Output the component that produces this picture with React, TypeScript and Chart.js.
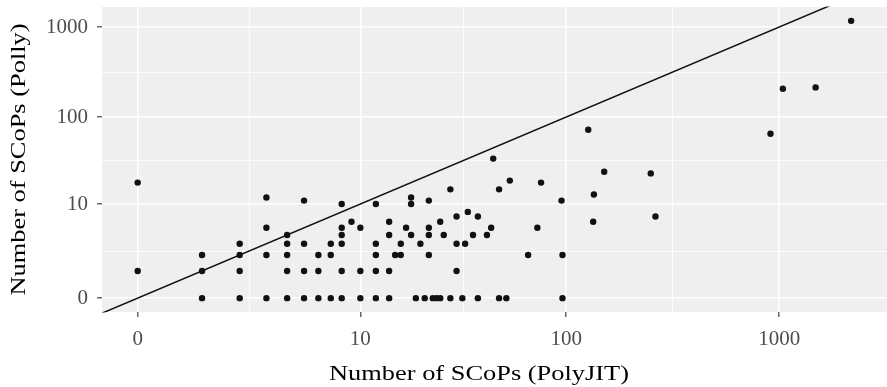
import React, { useEffect, useRef } from 'react';
import { Chart, registerables } from 'chart.js';

Chart.register(...registerables);

// Number of SCoPs found by PolyJIT (x) and by Polly (y), one entry per project
const polyjit = [
  0, 0,
  1, 1, 1,
  2, 2, 2, 2,
  3, 3, 3, 3,
  4, 4, 4, 4, 4,
  5, 5, 5, 5,
  6, 6, 6,
  7, 7, 7,
  8, 8, 8, 8, 8, 8,
  9,
  10, 10, 10,
  12, 12, 12, 12, 12,
  14, 14, 14, 14,
  15,
  16, 16,
  17,
  18, 18, 18,
  19,
  20,
  21,
  22, 22, 22, 22,
  23, 24, 25,
  25,
  26,
  28, 28,
  30, 30, 30,
  32,
  33,
  34,
  36,
  38, 38,
  42,
  44,
  45,
  48, 48,
  52,
  54,
  66,
  73,
  76,
  95,
  96, 96,
  127,
  134, 135,
  151,
  250,
  263,
  910,
  1040,
  1480,
  2170,
];

const polly = [
  18, 1,
  0, 1, 2,
  0, 1, 2, 3,
  0, 2, 5, 12,
  0, 1, 2, 3, 4,
  0, 1, 3, 11,
  0, 1, 2,
  0, 2, 3,
  0, 1, 3, 4, 5, 10,
  6,
  0, 1, 5,
  0, 1, 2, 3, 10,
  0, 1, 4, 6,
  2,
  2, 3,
  5,
  4, 10, 12,
  0,
  3,
  0,
  2, 4, 5, 11,
  0, 0, 0,
  6,
  4,
  0, 15,
  1, 3, 7,
  0,
  3,
  8,
  4,
  0, 7,
  4,
  5,
  34,
  0, 15,
  0,
  19,
  2,
  5,
  18,
  11,
  0, 2,
  72,
  6, 13,
  24,
  23,
  7,
  65,
  207,
  214,
  1170,
];

const tickValues = [0, 10, 100, 1000];
const tickLabels = ['0', '10', '100', '1000'];
const xTitle = 'Number of SCoPs (PolyJIT)';
const yTitle = 'Number of SCoPs (Polly)';

const tf = (v: number) => Math.log10(v + 1);

export default function App() {
  const ref = useRef<HTMLCanvasElement>(null);

  useEffect(() => {
    document.body.style.margin = '0';
    const xs = polyjit.map(tf);
    const ys = polly.map(tf);
    const expand = (arr: number[]) => {
      const lo = Math.min(...arr);
      const hi = Math.max(...arr);
      const r = hi - lo;
      return [lo - 0.05 * r, hi + 0.05 * r];
    };
    const [xmin, xmax] = expand(xs);
    const [ymin, ymax] = expand(ys);
    const major = tickValues.map(tf);
    const minor = major.slice(1).map((m, i) => (m + major[i]) / 2);
    const tickList = [...major, ...minor].sort((a, b) => a - b);
    const isMajor = (v: number) => major.some((m) => Math.abs(m - v) < 1e-9);
    const label = (v: number) => {
      const i = major.findIndex((m) => Math.abs(m - v) < 1e-9);
      return i >= 0 ? tickLabels[i] : '';
    };
    const points = xs.map((x, i) => ({ x, y: ys[i] }));
    const lo = Math.min(xmin, ymin);
    const hi = Math.max(xmax, ymax);

    const axis = (min: number, max: number, fit: (s: any) => void, pad: number) => ({
      type: 'linear' as const,
      min,
      max,
      afterBuildTicks: (s: any) => {
        s.ticks = tickList.filter((v) => v >= min && v <= max).map((v) => ({ value: v }));
      },
      afterFit: (s: any) => {
        fit(s);
        s.paddingTop = 0;
        s.paddingBottom = 0;
        s.paddingLeft = 0;
        s.paddingRight = 0;
      },
      border: { display: false },
      grid: {
        color: '#ffffff',
        lineWidth: (c: any) => (c.tick && isMajor(c.tick.value) ? 1.6 : 0.8),
        drawTicks: true,
        tickLength: 5,
        tickWidth: 1.1,
        tickColor: (c: any) => (c.tick && isMajor(c.tick.value) ? '#333333' : 'rgba(0,0,0,0)'),
      },
      ticks: {
        autoSkip: false,
        maxRotation: 0,
        minRotation: 0,
        padding: pad,
        color: '#4D4D4D',
        font: { family: 'Liberation Serif', size: 21 },
        callback: (v: any) => label(Number(v)),
      },
      title: { display: false },
    });

    const bgPlugin = {
      id: 'panelBg',
      beforeDraw(chart: any) {
        const { ctx, chartArea: ca, width, height } = chart;
        ctx.save();
        ctx.fillStyle = '#ffffff';
        ctx.fillRect(0, 0, width, height);
        ctx.fillStyle = '#EFEFEF';
        ctx.fillRect(ca.left, ca.top, ca.right - ca.left, ca.bottom - ca.top);
        ctx.restore();
      },
    };

    const titlePlugin = {
      id: 'axisTitles',
      afterDraw(chart: any) {
        const { ctx, chartArea: ca } = chart;
        ctx.save();
        ctx.fillStyle = '#000000';
        ctx.font = '22px "Liberation Serif"';
        ctx.textAlign = 'center';
        ctx.textBaseline = 'alphabetic';
        ctx.translate(ca.left + 377, 380);
        ctx.scale(1.2, 1);
        ctx.fillText(xTitle, 0, 0);
        ctx.restore();

        ctx.save();
        ctx.fillStyle = '#000000';
        ctx.font = '22px "Liberation Serif"';
        ctx.textAlign = 'center';
        ctx.textBaseline = 'alphabetic';
        ctx.translate(25, (ca.top + ca.bottom) / 2);
        ctx.rotate(-Math.PI / 2);
        ctx.scale(1.2, 1);
        ctx.fillText(yTitle, 0, 0);
        ctx.restore();
      },
    };

    const chart = new Chart(ref.current as HTMLCanvasElement, {
      type: 'scatter',
      data: {
        datasets: [
          {
            data: points,
            pointRadius: 3.2,
            pointHoverRadius: 3.2,
            backgroundColor: '#111111',
            borderWidth: 0,
            clip: false as any,
          },
          {
            data: [
              { x: lo, y: lo },
              { x: hi, y: hi },
            ],
            showLine: true,
            pointRadius: 0,
            borderColor: '#111111',
            borderWidth: 1.5,
            clip: 0.5 as any,
          },
        ],
      },
      options: {
        animation: false,
        responsive: true,
        maintainAspectRatio: false,
        layout: { padding: { top: 7, left: 0, right: 0, bottom: 0 } },
        plugins: { legend: { display: false }, tooltip: { enabled: false } },
        scales: {
          x: axis(xmin, xmax, (s: any) => { s.height = 75; }, 10) as any,
          y: axis(ymin, ymax, (s: any) => { s.width = 102; }, 9) as any,
        },
      },
      plugins: [bgPlugin, titlePlugin],
    });
    return () => chart.destroy();
  }, []);

  return (
    <div style={{ position: 'fixed', left: 0, top: 0, width: 887, height: 387, overflow: 'hidden', background: '#fff' }}>
      <div style={{ position: 'relative', width: 890, height: 387 }}>
        <canvas ref={ref} />
      </div>
    </div>
  );
}
